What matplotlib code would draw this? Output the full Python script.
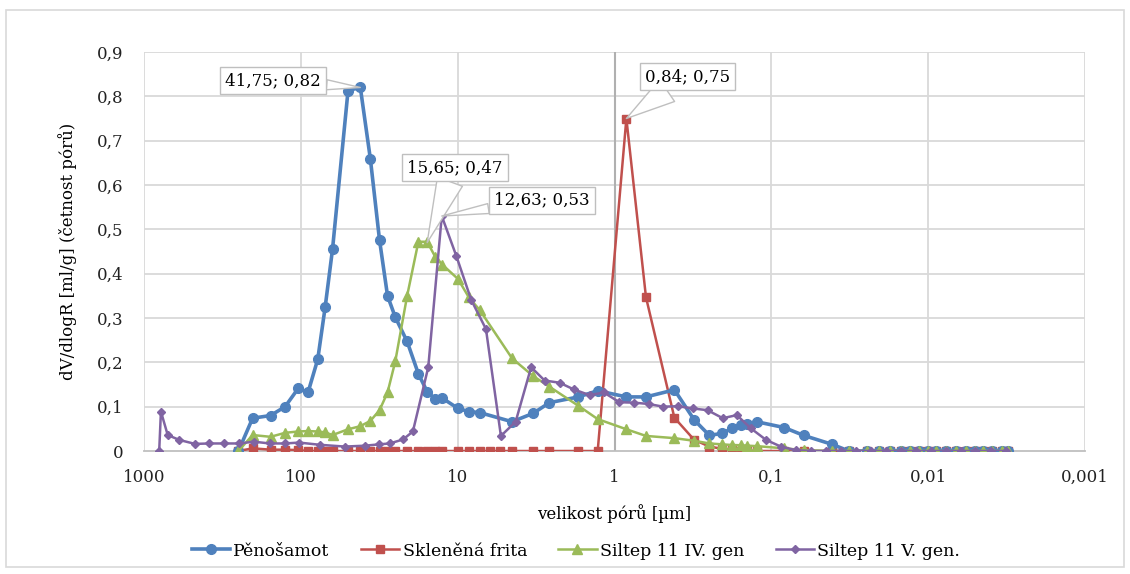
import numpy as np
import matplotlib.pyplot as plt
from matplotlib.patches import Rectangle
from matplotlib.ticker import FixedLocator, NullLocator

plt.rcParams['font.family'] = ['DejaVu Serif']

# pore size grid (um) shared by Pěnošamot and Siltep 11 IV. gen
x_main = [250, 203, 156, 126, 104, 90, 78, 70, 62.8, 50,
          41.75, 36, 31.5, 28, 25, 21, 17.8, 15.65, 13.9, 12.5,
          9.95, 8.5, 7.2, 4.5, 3.3, 2.6, 1.7, 1.28, 0.84, 0.63,
          0.415, 0.31, 0.248, 0.206, 0.178, 0.156, 0.142, 0.124, 0.083, 0.062,
          0.041, 0.032,
          0.0245, 0.0205, 0.0175, 0.015, 0.013, 0.0115, 0.01, 0.0089,
          0.0077, 0.0066, 0.0057, 0.005, 0.0045, 0.0039, 0.0034, 0.0031]

penosamot = [0, 0.074, 0.080, 0.100, 0.141, 0.132, 0.207, 0.324, 0.455, 0.813,
             0.82, 0.658, 0.476, 0.350, 0.302, 0.247, 0.174, 0.134, 0.117, 0.119,
             0.096, 0.089, 0.0865, 0.066, 0.085, 0.109, 0.122, 0.136, 0.122, 0.122,
             0.138, 0.070, 0.035, 0.040, 0.051, 0.059, 0.062, 0.066, 0.053, 0.035,
             0.015, 0] + [0] * 16

siltep_iv = [0, 0.036, 0.032, 0.041, 0.044, 0.045, 0.044, 0.042, 0.036, 0.049,
             0.056, 0.068, 0.092, 0.132, 0.202, 0.350, 0.472, 0.472, 0.438, 0.420,
             0.388, 0.347, 0.317, 0.209, 0.169, 0.145, 0.102, 0.072, 0.049, 0.034,
             0.029, 0.023, 0.017, 0.015, 0.0135, 0.013, 0.012, 0.011, 0.006, 0.002,
             0, 0] + [0] * 16

# the frit was measured at two extra sizes between 7.2 and 4.5 um
x_frita = x_main[:23] + [6.25, 5.35] + x_main[23:]
frita = [0, 0.006, 0.003, 0.003, 0.002, 0, 0, 0, 0, 0,
         0, 0, 0, 0, 0, 0, 0, 0, 0, 0,
         0, 0, 0, 0, 0, 0, 0, 0, 0, 0,
         0.75, 0.347, 0.075, 0.025, 0.010, 0.005, 0.002, 0.001, 0.001, 0,
         0, 0, 0, 0] + [0] * 16

x_v = [800, 780, 706, 596, 473, 384, 308, 247, 199, 158,
       126, 102.5, 75.7, 52.5, 38.9, 31.7, 27.1, 22.3, 19.3, 15.4,
       12.63, 10.2, 8.2, 6.6, 5.3, 4.27, 3.4, 2.79, 2.24, 1.82,
       1.44, 1.17, 0.93, 0.746, 0.605, 0.49, 0.395, 0.317, 0.255, 0.204,
       0.166, 0.135, 0.108, 0.087, 0.070,
       0.0558, 0.0449, 0.036, 0.0289, 0.0232, 0.0186, 0.0149, 0.012,
       0.0096, 0.0077, 0.0062, 0.005, 0.004, 0.0032]
siltep_v = [0, 0.089, 0.036, 0.025, 0.016, 0.017, 0.017, 0.017, 0.021, 0.017,
            0.017, 0.019, 0.014, 0.010, 0.012, 0.015, 0.017, 0.026, 0.044, 0.189,
            0.53, 0.44, 0.341, 0.275, 0.034, 0.066, 0.189, 0.159, 0.154, 0.139,
            0.126, 0.132, 0.110, 0.109, 0.106, 0.100, 0.101, 0.096, 0.092, 0.074,
            0.081, 0.051, 0.025, 0.010, 0.002] + [0] * 14

x_ticks = [1000, 100, 10, 1, 0.1, 0.01, 0.001]
x_ticklabels = ['1000', '100', '10', '1', '0,1', '0,01', '0,001']
y_ticks = [0, 0.1, 0.2, 0.3, 0.4, 0.5, 0.6, 0.7, 0.8, 0.9]
y_ticklabels = ['0', '0,1', '0,2', '0,3', '0,4', '0,5', '0,6', '0,7', '0,8', '0,9']

c_blue = '#4F81BD'
c_red = '#C0504D'
c_green = '#9BBB59'
c_purple = '#8064A2'
grid_c = '#D9D9D9'

fig = plt.figure(figsize=(11.3, 5.74), dpi=100)
ax = fig.add_axes([144/1130, 1-451/574, (1085-144)/1130, (451-52)/574])

# chart area border
fig.patches.append(Rectangle((6/1130, 7/574), 1118/1130, 557/574, transform=fig.transFigure,
                             fill=False, ec='#D9D9D9', lw=1.2, zorder=0))

ax.set_xscale('log')
ax.set_xlim(1000, 0.001)
ax.set_ylim(0, 0.9)
ax.xaxis.set_major_locator(FixedLocator(x_ticks))
ax.xaxis.set_minor_locator(NullLocator())
ax.set_xticklabels(x_ticklabels)
ax.set_yticks(y_ticks)
ax.set_yticklabels(y_ticklabels)
ax.tick_params(length=0, labelsize=12, colors='#222222')
ax.tick_params(axis='x', pad=13)
ax.tick_params(axis='y', pad=15)

for v in y_ticks[1:]:
    ax.axhline(v, color=grid_c, lw=1.3, zorder=0)
for v in x_ticks:
    ax.axvline(v, color=grid_c, lw=1.3, zorder=0)
ax.axvline(1, color='#B0B0B0', lw=1.5, zorder=0)
for s in ['top', 'right', 'left']:
    ax.spines[s].set_visible(False)
ax.spines['bottom'].set_color('#BFBFBF')
ax.spines['bottom'].set_linewidth(1.3)

ax.plot(x_main, penosamot, color=c_blue, lw=2.6, marker='o', ms=7, label='Pěnošamot', zorder=4)
ax.plot(x_frita, frita, color=c_red, lw=1.8, marker='s', ms=6, label='Skleněná frita', zorder=3)
ax.plot(x_main, siltep_iv, color=c_green, lw=1.8, marker='^', ms=6.5, label='Siltep 11 IV. gen', zorder=5)
ax.plot(x_v, siltep_v, color=c_purple, lw=1.8, marker='D', ms=4.5, label='Siltep 11 V. gen.', zorder=6)

ax.set_xlabel('velikost pórů [µm]', fontsize=12, labelpad=13)
ax.set_ylabel('dV/dlogR [ml/g] (četnost pórů)', fontsize=12, labelpad=14)


def callout(xv, yv, dx, dy, tw):
    txt = '%s; %s' % (('%g' % xv).replace('.', ','), ('%g' % yv).replace('.', ','))
    ax.annotate(txt, (xv, yv), xytext=(dx, dy), textcoords='offset pixels',
                ha='center', va='center', fontsize=12, zorder=10,
                bbox=dict(boxstyle='square,pad=0.3', fc='white', ec='#BFBFBF', lw=1),
                arrowprops=dict(arrowstyle='wedge,tail_width=%g' % tw, fc='white',
                                ec='#BFBFBF', lw=1, shrinkA=0, shrinkB=0))


callout(41.75, 0.82, -87, 7, 0.6)
callout(15.65, 0.47, 28, 75, 1.6)
callout(12.63, 0.53, 100, 16, 0.6)
callout(0.84, 0.75, 61, 42, 1.6)

fig.legend(loc='center', bbox_to_anchor=(576/1130, 1-551/574), ncol=4, frameon=False,
           fontsize=12.5, handlelength=2.2, columnspacing=1.8, handletextpad=0.2)

fig.savefig('out.png', dpi=100)
